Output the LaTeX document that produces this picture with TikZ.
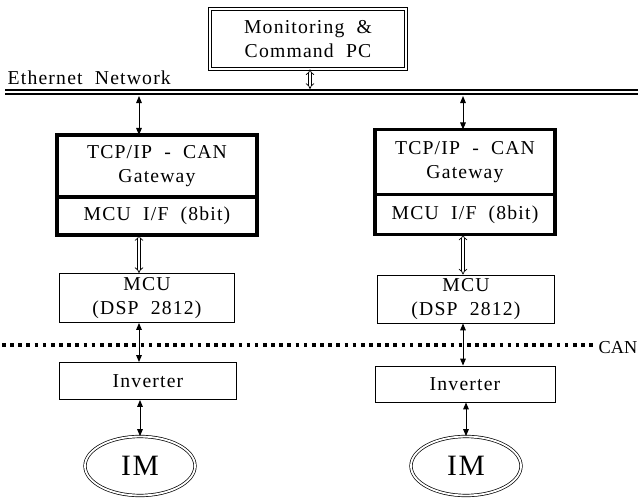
\documentclass[tikz,border=0pt]{standalone}
\usepackage{fontspec}
\setmainfont{Liberation Serif}[LetterSpace=6, WordSpace=2]
\usetikzlibrary{ arrows.meta,      % For the arrow tips
                 shapes.geometric, % For the motor ellipses
               }
\tikzstyle{box} = [rectangle, draw=black, line width=0.6pt, align=center, inner sep=0pt, font=\fontsize{14}{17.5}\selectfont]
\tikzstyle{gate} = [box, line width=2.5pt, outer sep=0pt]
\tikzstyle{host} = [box, double, double distance=1.4pt, line width=0.5pt]
\tikzstyle{motor} = [ellipse, draw=black, double, double distance=1.3pt, line width=0.5pt, font=\fontsize{21}{23}\selectfont]
\tikzstyle{link} = [{Triangle[length=5pt,width=4pt]}-{Triangle[length=5pt,width=4pt]}, line width=0.7pt]
\tikzstyle{buslink} = [{Implies}-{Implies}, double, double distance=1.6pt, line width=0.5pt]
\tikzstyle{tag} = [inner sep=1pt, font=\fontsize{14}{16}\selectfont]

\begin{document}
\begin{tikzpicture}[x=0.025cm, y=-0.025cm]
  \useasboundingbox (0,0) rectangle (638,498);
  \node (pc) [host, minimum width=4.9cm, minimum height=1.5cm] at (308,39) {Monitoring \&\\Command PC};

  % Ethernet bus
  \coordinate (eth-l) at (5,92);
  \coordinate (eth-r) at (638,92);
  \draw [double, double distance=2pt, line width=0.8pt] (eth-l) -- (eth-r);
  \node (ethlabel) [tag, anchor=south west] at (6,86) {Ethernet Network};
  \coordinate (tap0) at (310,89);
  \coordinate (col1) at (139,96);
  \coordinate (col2) at (463,96);

  % CAN bus
  \coordinate (can-l) at (2,345);
  \coordinate (can-r) at (597,345);
  \draw [line width=2.2pt, dash pattern=on 2.6pt off 3.2pt] (can-l) -- (can-r);
  \node (canlabel) [tag, anchor=east, inner sep=0pt, font=\fontsize{13}{15}\selectfont\addfontfeature{LetterSpace=0}] at (637.5,348) {CAN};

  % left station
  \node (gw1) [gate, minimum width=5cm, minimum height=1.55cm] at (157,166) {TCP/IP - CAN\\Gateway};
  \node (if1) [gate, minimum width=5cm, minimum height=0.95cm, anchor=north] at (gw1.south) {MCU I/F (8bit)};
  \node (mcu1) [box, minimum width=4.375cm, minimum height=1.225cm] at (147,298) {MCU\\(DSP 2812)};
  \node (inv1) [box, minimum width=4.425cm, minimum height=0.925cm] at (148,381) {Inverter};
  \node (im1) [motor, minimum width=2.75cm, minimum height=1.475cm] at (140,466) {IM};

  % right station
  \node (gw2) [gate, minimum width=4.5cm, minimum height=1.625cm] at (465,162) {TCP/IP - CAN\\Gateway};
  \node (if2) [gate, minimum width=4.5cm, minimum height=1cm, anchor=north] at (gw2.south) {MCU I/F (8bit)};
  \node (mcu2) [box, minimum width=4.425cm, minimum height=1.2cm] at (466,299) {MCU\\(DSP 2812)};
  \node (inv2) [box, minimum width=4.5cm, minimum height=0.9cm] at (465,384) {Inverter};
  \node (im2) [motor, minimum width=2.75cm, minimum height=1.475cm] at (466,466) {IM};

  % connections
  \draw [buslink] (pc.south -| tap0) -- (tap0);
  \draw [link] (col1) -- (col1 |- gw1.north);
  \draw [link] (col2) -- (col2 |- gw2.north);
  \draw [buslink] (if1.south -| col1) -- (mcu1.north -| col1);
  \draw [buslink] (if2.south -| col2) -- (mcu2.north -| col2);
  \draw [link] (mcu1.south -| col1) -- (inv1.north -| col1);
  \draw [link] (mcu2.south -| col2) -- (inv2.north -| col2);
  \draw [link] (inv1.south -| im1) -- (im1.north);
  \draw [link] (inv2.south -| im2) -- (im2.north);
\end{tikzpicture}
\end{document}
